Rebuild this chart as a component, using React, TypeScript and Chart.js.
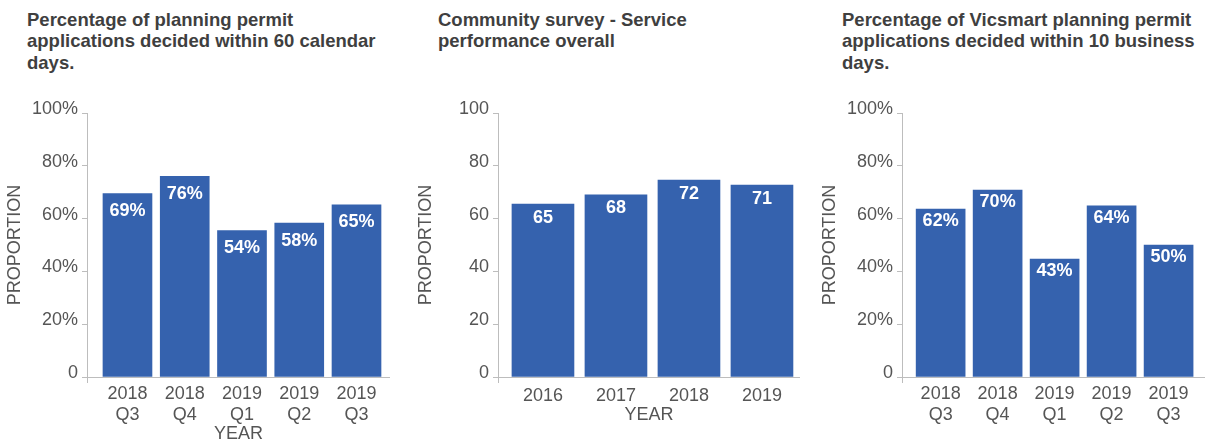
import React, { useEffect, useRef } from "react";
import { Chart, registerables } from "chart.js";

Chart.register(...registerables);

// ---- data ----
const quarterCategories: string[][] = [
  ["2018", "Q3"],
  ["2018", "Q4"],
  ["2019", "Q1"],
  ["2019", "Q2"],
  ["2019", "Q3"],
];
const permitValues = [69.5, 76, 55.5, 58.3, 65.2];
const permitLabels = ["69%", "76%", "54%", "58%", "65%"];

const surveyYears: string[] = ["2016", "2017", "2018", "2019"];
const surveyValues = [65.5, 69, 74.6, 72.7];
const surveyLabels = ["65", "68", "72", "71"];

const vicsmartValues = [63.6, 70.8, 44.7, 64.8, 50];
const vicsmartLabels = ["62%", "70%", "43%", "64%", "50%"];

const permitTitle = [
  "Percentage of planning permit",
  "applications decided within 60 calendar",
  "days.",
];
const surveyTitle = ["Community survey - Service", "performance overall"];
const vicsmartTitle = [
  "Percentage of Vicsmart planning permit",
  "applications decided within 10 business",
  "days.",
];

// ---- styles ----
const FONT = '"Liberation Sans", Arial, Helvetica, sans-serif';
const BAR = "#3562ae";
const AXIS = "#bdbdbd";
const TEXT = "#555555";
const TITLE = "#3f3f3f";

const barLabelPlugin = {
  id: "barLabels",
  afterDatasetsDraw(chart: any, _args: any, opts: any) {
    const meta = chart.getDatasetMeta(0);
    const ctx = chart.ctx;
    ctx.save();
    ctx.fillStyle = "#ffffff";
    ctx.font = `bold 18px ${FONT}`;
    ctx.textAlign = "center";
    ctx.textBaseline = "middle";
    meta.data.forEach((el: any, i: number) => {
      ctx.fillText(opts.labels[i], el.x, el.y + opts.offset);
    });
    ctx.restore();
  },
  afterDraw(chart: any) {
    const { ctx, chartArea } = chart;
    ctx.save();
    ctx.strokeStyle = AXIS;
    ctx.lineWidth = 1;
    ctx.beginPath();
    ctx.moveTo(chartArea.left + 0.5, chartArea.bottom);
    ctx.lineTo(chartArea.left + 0.5, chartArea.bottom + 6);
    ctx.stroke();
    ctx.restore();
  },
};

type PanelProps = {
  left: number;
  width: number;
  categories: (string | string[])[];
  values: number[];
  labels: string[];
  xMin: number;
  xMax: number;
  barThickness: number;
  percent: boolean;
  showXTitle: boolean;
  xHeight: number;
  padBottom: number;
  labelOffset: number;
  tickPad: number;
};

const CANVAS_H = 450;

function Panel(p: PanelProps) {
  const ref = useRef<HTMLCanvasElement | null>(null);
  useEffect(() => {
    if (!ref.current) return;
    const chart = new Chart(ref.current, {
      type: "bar",
      data: {
        datasets: [
          {
            data: p.values.map((v, i) => ({ x: i, y: v })),
            backgroundColor: BAR,
            borderWidth: 0,
            barThickness: p.barThickness,
          },
        ],
      },
      plugins: [barLabelPlugin],
      options: {
        responsive: false,
        animation: false,
        devicePixelRatio: 1,
        layout: { padding: { top: 113, bottom: p.padBottom, left: 0, right: 0 } },
        plugins: {
          legend: { display: false },
          tooltip: { enabled: false },
          barLabels: { labels: p.labels, offset: p.labelOffset },
        } as any,
        scales: {
          x: {
            type: "linear",
            offset: false,
            min: p.xMin,
            max: p.xMax,
            afterBuildTicks: (s: any) => {
              s.ticks = p.categories.map((_, i) => ({ value: i }));
            },
            afterFit: (s: any) => {
              s.height = p.xHeight;
            },
            grid: { display: false, drawTicks: false, offset: false },
            border: { display: true, color: AXIS, width: 1 },
            ticks: {
              autoSkip: false,
              maxRotation: 0,
              padding: p.tickPad,
              color: TEXT,
              font: { family: FONT, size: 18 },
              callback: (v: any) => p.categories[Math.round(Number(v))] ?? "",
            },
            title: {
              display: p.showXTitle,
              text: "YEAR",
              color: TEXT,
              font: { family: FONT, size: 18 },
              padding: { top: 0, bottom: 0 },
            },
          },
          y: {
            min: 0,
            max: 100,
            afterFit: (s: any) => {
              s.width = 87;
            },
            grid: {
              drawOnChartArea: false,
              drawTicks: true,
              tickLength: 5,
              color: AXIS,
            },
            border: { display: true, color: AXIS, width: 1 },
            ticks: {
              stepSize: 20,
              padding: 4,
              labelOffset: -4,
              color: TEXT,
              font: { family: FONT, size: 18 },
              callback: (v: any) =>
                p.percent ? (Number(v) === 0 ? "0" : `${v}%`) : `${v}`,
            },
            title: {
              display: true,
              text: "PROPORTION",
              color: TEXT,
              font: { family: FONT, size: 18 },
              padding: { top: 4, bottom: 0 },
            },
          },
        },
      } as any,
    });
    return () => chart.destroy();
  }, []);
  return (
    <canvas
      ref={ref}
      width={p.width}
      height={CANVAS_H}
      style={{
        position: "absolute",
        left: p.left,
        top: 0,
        width: p.width,
        height: CANVAS_H,
      }}
    />
  );
}

function Title({ left, lines }: { left: number; lines: string[] }) {
  return (
    <div
      style={{
        position: "absolute",
        left,
        top: 9,
        fontFamily: FONT,
        fontWeight: "bold",
        fontSize: 18.5,
        lineHeight: "21.3px",
        color: TITLE,
        whiteSpace: "nowrap",
      }}
    >
      {lines.map((l, i) => (
        <div key={i}>{l}</div>
      ))}
    </div>
  );
}

export default function App() {
  return (
    <div
      style={{
        position: "absolute",
        left: 0,
        top: 0,
        width: 1205,
        height: 443,
        overflow: "hidden",
        background: "#ffffff",
      }}
    >
      <Title left={27} lines={permitTitle} />
      <Title left={438} lines={surveyTitle} />
      <Title left={842} lines={vicsmartTitle} />
      <Panel
        left={0}
        width={390}
        categories={quarterCategories}
        values={permitValues}
        labels={permitLabels}
        xMin={-0.707}
        xMax={4.585}
        barThickness={49}
        percent={true}
        showXTitle={true}
        xHeight={68}
        padBottom={5}
        labelOffset={17.5}
        tickPad={6}
      />
      <Panel
        left={411}
        width={389}
        categories={surveyYears}
        values={surveyValues}
        labels={surveyLabels}
        xMin={-0.616}
        xMax={3.521}
        barThickness={62}
        percent={false}
        showXTitle={true}
        xHeight={49}
        padBottom={24}
        labelOffset={13.5}
        tickPad={8}
      />
      <Panel
        left={815}
        width={390}
        categories={quarterCategories}
        values={vicsmartValues}
        labels={vicsmartLabels}
        xMin={-0.678}
        xMax={4.639}
        barThickness={49}
        percent={true}
        showXTitle={false}
        xHeight={68}
        padBottom={5}
        labelOffset={12}
        tickPad={6}
      />
    </div>
  );
}
